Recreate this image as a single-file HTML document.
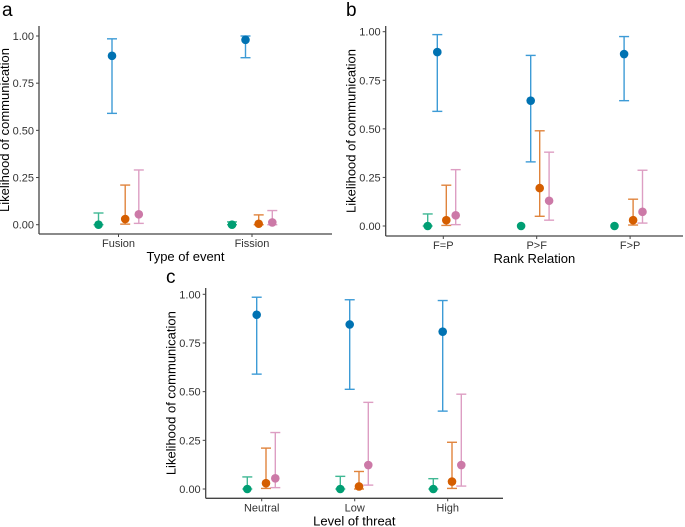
<!DOCTYPE html>
<html><head><meta charset="utf-8">
<style>
html,body{margin:0;padding:0;background:#fff;}
svg{display:block;font-family:"Liberation Sans",Arial,sans-serif;}
</style></head>
<body>
<svg id="chart" width="685" height="527" viewBox="0 0 685 527"></svg>
<script>
const seriesNames = ["green","blue","orange","pink"];
const seriesColors = ["#009E73","#0072B2","#D55E00","#CC79A7"];
const barColors = ["#40b894","#3d9bd6","#e0843d","#dd9ec3"];
const yTicks = [0,0.25,0.5,0.75,1.0];
const yTickLabels = ["0.00","0.25","0.50","0.75","1.00"];

// Panel a
const aCategories = ["Fusion","Fission"];
const aMeans = [[0,0],[0.895,0.98],[0.03,0.005],[0.055,0.012]];
const aLow = [[0,0],[0.59,0.885],[0.003,0],[0.007,0]];
const aHigh = [[0.062,0.015],[0.985,1.0],[0.21,0.052],[0.29,0.075]];
// Panel b
const bCategories = ["F=P","P>F","F>P"];
const bMeans = [[0,0,0],[0.895,0.645,0.885],[0.03,0.195,0.03],[0.055,0.13,0.073]];
const bLow = [[0,null,null],[0.59,0.33,0.645],[0.003,0.05,0.005],[0.007,0.03,0.015]];
const bHigh = [[0.062,null,null],[0.985,0.878,0.975],[0.21,0.49,0.138],[0.29,0.38,0.287]];
// Panel c
const cCategories = ["Neutral","Low","High"];
const cMeans = [[0,0,0],[0.895,0.845,0.808],[0.03,0.013,0.038],[0.055,0.123,0.123]];
const cLow = [[0,0,0],[0.59,0.512,0.40],[0.003,0,0.003],[0.007,0.02,0.015]];
const cHigh = [[0.062,0.065,0.053],[0.985,0.972,0.968],[0.21,0.09,0.24],[0.29,0.445,0.487]];

const NS="http://www.w3.org/2000/svg";
const svg=document.getElementById('chart');
function mk(tag,attrs,parent){const e=document.createElementNS(NS,tag);for(const k in attrs)e.setAttribute(k,attrs[k]);(parent||svg).appendChild(e);return e;}

function panel(cfg){
  const g=mk('g',{});
  
  
  const y=v=>cfg.y0+(cfg.y1-cfg.y0)*v;
  const n=cfg.cats.length;
  const x=i=>cfg.catX[0]+(cfg.catX[1]-cfg.catX[0])*i;
  const lt=mk('text',{x:cfg.lx,y:cfg.ly,'font-size':19,fill:'#000'},g);lt.textContent=cfg.letter;
  
  
  // axes
  const ya=mk('line',{x1:cfg.ax,y1:cfg.top,x2:cfg.ax,y2:cfg.ab,stroke:'#444','stroke-width':1.3},g);
  
  
  const xa=mk('line',{x1:cfg.ax,y1:cfg.ab,x2:cfg.ar,y2:cfg.ab,stroke:'#444','stroke-width':1.3},g);
  
  
  yTicks.forEach((t,i)=>{
    mk('line',{x1:cfg.ax-3,x2:cfg.ax,y1:y(t),y2:y(t),stroke:'#444','stroke-width':1},g);
    const tx=mk('text',{x:cfg.ax-5,y:y(t)+4,'font-size':11,'text-anchor':'end',fill:'#333'},g);
    tx.textContent=yTickLabels[i];
    
    
  });
  cfg.cats.forEach((c,i)=>{
    mk('line',{x1:x(i),x2:x(i),y1:cfg.ab,y2:cfg.ab+3,stroke:'#444','stroke-width':1},g);
    const tx=mk('text',{x:x(i),y:cfg.ab+13,'font-size':11,'text-anchor':'middle',fill:'#333'},g);
    tx.textContent=c;
    
    
  });
  const xt=mk('text',{x:(cfg.ax+cfg.ar)/2,y:cfg.ab+27,'font-size':13,'text-anchor':'middle',fill:'#000'},g);
  xt.textContent=cfg.xlabel;
  
  
  const ytx=cfg.ax-30,yty=(cfg.top+cfg.ab)/2;
  const yt=mk('text',{x:ytx,y:yty,'font-size':13,'text-anchor':'middle',fill:'#000',transform:`rotate(-90 ${ytx} ${yty})`},g);
  yt.textContent='Likelihood of communication';
  
  
  for(let s=0;s<4;s++){
    for(let i=0;i<n;i++){
      const cx=x(i)+cfg.off[s];
      if(cfg.lo[s][i]!==null){
        const eb=mk('g',{stroke:barColors[s],'stroke-width':1.4,fill:'none'},g);
        
        
        mk('line',{x1:cx,x2:cx,y1:y(cfg.lo[s][i]),y2:y(cfg.hi[s][i])},eb);
        mk('line',{x1:cx-5,x2:cx+5,y1:y(cfg.lo[s][i]),y2:y(cfg.lo[s][i])},eb);
        mk('line',{x1:cx-5,x2:cx+5,y1:y(cfg.hi[s][i]),y2:y(cfg.hi[s][i])},eb);
      }
      const p=mk('circle',{cx:cx,cy:y(cfg.m[s][i]),r:4.3,fill:seriesColors[s]},g);
      
      
    }
  }
}
panel({letter:'a',lx:2,ly:16,ax:39,ar:332,top:26,ab:234,y0:224.7,y1:36,catX:[118.5,252],off:[-20,-6.5,6.7,20.3],
  cats:aCategories,m:aMeans,lo:aLow,hi:aHigh,xlabel:'Type of event'});
panel({letter:'b',lx:346,ly:16,ax:385.7,ar:683,top:26,ab:236,y0:226,y1:31.7,catX:[443.3,536.7],off:[-15.6,-6,3,12.4],
  cats:bCategories,m:bMeans,lo:bLow,hi:bHigh,xlabel:'Rank Relation'});
panel({letter:'c',lx:166,ly:283,ax:205.7,ar:503,top:288,ab:498.3,y0:489,y1:294.3,catX:[261.7,354.7],off:[-14.4,-5,4.3,13.6],
  cats:cCategories,m:cMeans,lo:cLow,hi:cHigh,xlabel:'Level of threat'});
</script>
</body></html>
